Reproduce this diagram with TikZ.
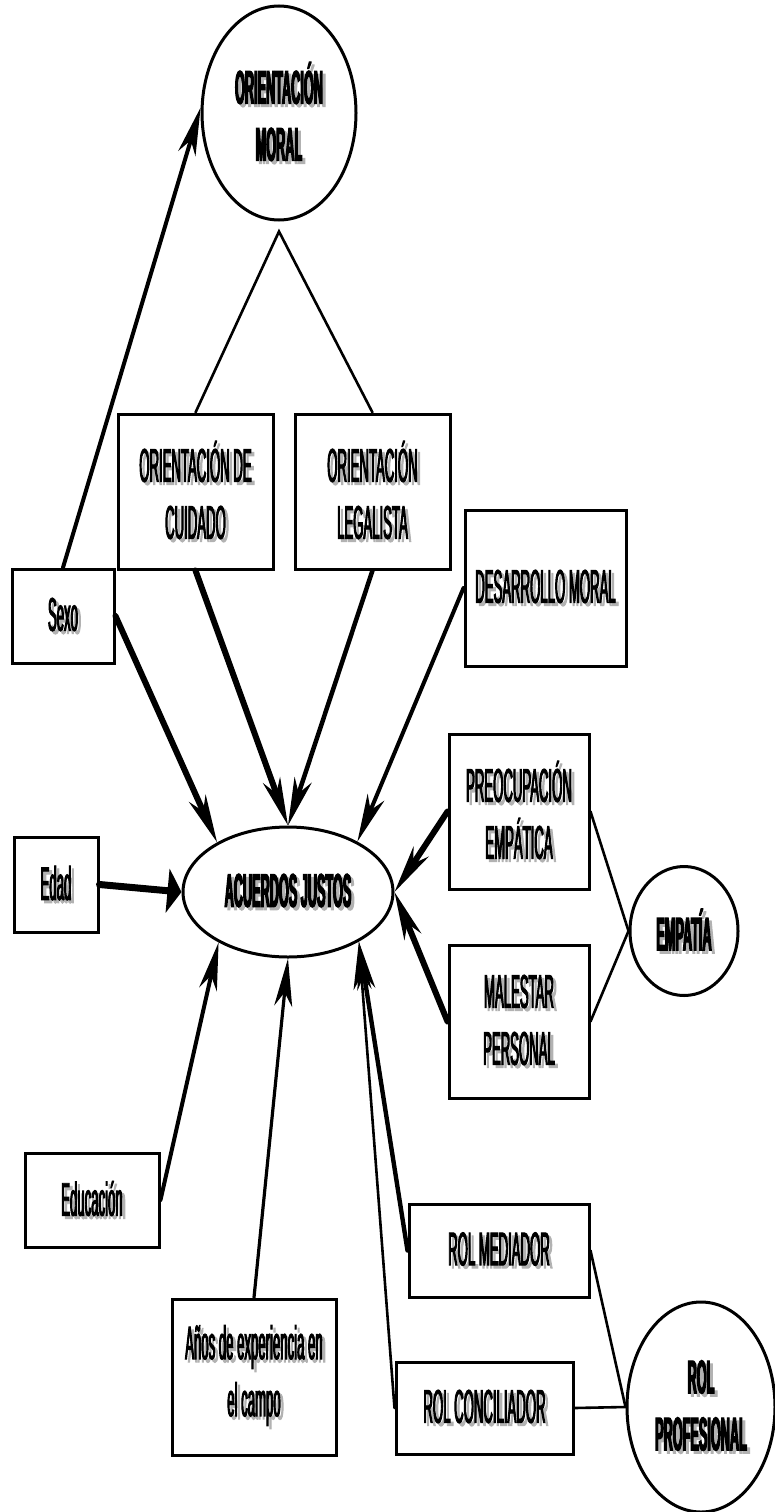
\documentclass[tikz,border=0pt]{standalone}
\usepackage{fontspec}
\usepackage{xcolor}
\newfontfamily\cond[FakeStretch=0.28, FakeBold=2]{Liberation Sans}
\newfontfamily\condb[FakeStretch=0.27, FakeBold=2.5]{Liberation Sans Bold}
\usepackage{tikz}
\usetikzlibrary{shapes.geometric,arrows.meta}
% texto con sombra gris
\newcommand\sh[1]{\leavevmode\rlap{\hspace{3pt}\raisebox{-3pt}{\textcolor{black!30}{#1}}}#1}
\tikzset{
	caja/.style={draw, rectangle, line width=3pt, inner sep=0, align=center, font=\cond\fontsize{47}{57}\selectfont},
	elipse/.style={draw, ellipse, line width=3pt, inner sep=0, align=center, font=\condb\fontsize{47}{57}\selectfont},
	flecha/.style={-{Stealth[length=48pt, width=18pt, inset=14pt]}, line cap=round},
	linea/.style={line width=2.6pt, line cap=round},
}

\begin{document}
\begin{tikzpicture}[x=1pt, y=-1pt]
	\useasboundingbox (0,0) rectangle (774,1512);
	% Nodes:
	\node[elipse, minimum width=154pt, minimum height=214pt] (OM) at (279,113) {\sh{ORIENTACIÓN}\\\sh{MORAL}};
	\node[caja, minimum width=155pt, minimum height=155pt] (OC) at (195.5,491.5) {\sh{ORIENTACIÓN DE}\\\sh{CUIDADO}};
	\node[caja, minimum width=155pt, minimum height=155pt] (OL) at (372.5,491.5) {\sh{ORIENTACIÓN}\\\sh{LEGALISTA}};
	\node[caja, minimum width=102pt, minimum height=94pt] (Sexo) at (63,616) {\sh{Sexo}};
	\node[caja, minimum width=161pt, minimum height=156pt] (DM) at (545.5,588) {\sh{DESARROLLO MORAL}};
	\node[caja, minimum width=140pt, minimum height=155pt] (PE) at (519,811.5) {\sh{PREOCUPACIÓN}\\\sh{EMPÁTICA}};
	\node[elipse, minimum width=210pt, minimum height=130pt] (AJ) at (288,892) {\sh{ACUERDOS JUSTOS}};
	\node[caja, minimum width=84pt, minimum height=95pt] (Edad) at (56,884.5) {\sh{Edad}};
	\node[elipse, minimum width=108pt, minimum height=129pt] (EMP) at (684,931) {\sh{EMPATÍA}};
	\node[caja, minimum width=140pt, minimum height=153pt] (MP) at (519,1021.5) {\sh{MALESTAR}\\\sh{PERSONAL}};
	\node[caja, minimum width=134pt, minimum height=94pt] (Edu) at (92,1200) {\sh{Educación}};
	\node[caja, minimum width=180pt, minimum height=93pt] (RM) at (499,1250.5) {\sh{ROL MEDIADOR}};
	\node[caja, minimum width=164pt, minimum height=156pt] (Anos) at (254,1377) {\sh{Años de experiencia en}\\\sh{el campo}};
	\node[caja, minimum width=177pt, minimum height=92pt] (RC) at (484.5,1408) {\sh{ROL CONCILIADOR}};
	\node[elipse, minimum width=148pt, minimum height=210pt] (RP) at (701,1407) {\sh{ROL}\\\sh{PROFESIONAL}};
	\coordinate (vertice) at ([yshift=-10pt]OM.south);
	% Lines and arrows:
	\draw[linea] (OC.north) -- (vertice) -- (OL.north);
	\draw[flecha, line width=4pt] (Sexo.north) -- (OM.176);
	\draw[flecha, line width=6pt] (Sexo.east) -- (AJ.145);
	\draw[flecha, line width=6pt] (OC.south) -- (AJ.north);
	\draw[flecha, line width=4.5pt] (OL.south) -- (AJ.north);
	\draw[flecha, line width=4pt] (DM.west) -- (AJ.36);
	\draw[-{Triangle[length=14pt, width=44pt]}, line cap=round, line width=7pt] (Edad.east) -- (AJ.west);
	\draw[flecha, line width=6pt] (PE.west) -- (AJ.east);
	\draw[flecha, line width=6pt] (MP.west) -- (AJ.east);
	\draw[flecha, line width=4pt] (Edu.east) -- (AJ.216);
	\draw[flecha, line width=3.2pt] (Anos.north) -- (AJ.south);
	\draw[flecha, line width=4.4pt] (RM.west) -- (AJ.325);
	\draw[flecha, line width=2.6pt] (RC.west) -- (AJ.325);
	\draw[linea] (PE.east) -- (EMP.west) -- (MP.east);
	\draw[linea] (RM.east) -- (RP.west) -- (RC.east);
\end{tikzpicture}
\end{document}
